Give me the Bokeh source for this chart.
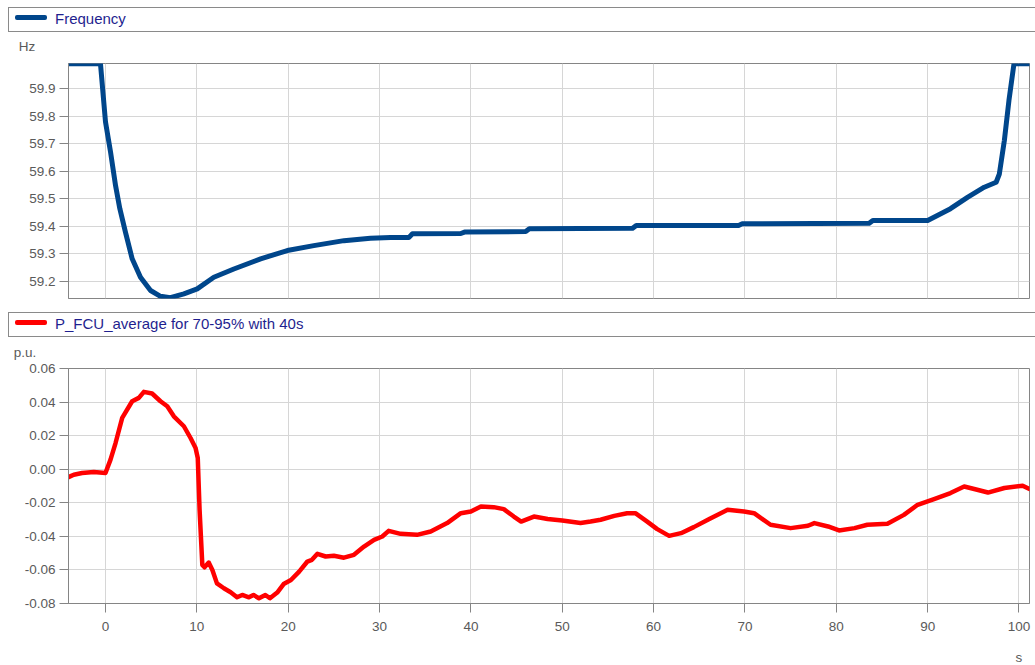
import numpy as np
from bokeh.plotting import figure
from bokeh.models import (Range1d, Label, FixedTicker, PrintfTickFormatter, Div)
from bokeh.layouts import column
from bokeh.embed import file_html
from bokeh.resources import INLINE

# ---- data -------------------------------------------------------------
# grid frequency (Hz) over time (s)
t_freq = [-4.05, -0.55, 0.0, 0.55, 1.1, 1.57, 2.19, 2.92, 3.83, 4.93, 6.02,
          7.1, 8.58, 10.04, 11.86, 14.05, 16.98, 19.9, 22.8, 26.1, 29.0, 31.2,
          33.2, 33.6, 38.9, 39.3, 46.0, 46.4, 57.7, 58.1, 69.3, 69.7, 83.6,
          84.0, 90.0, 92.5, 94.4, 96.2, 97.5, 97.85, 98.4, 98.9, 99.45, 101.15]
freq = [59.99, 59.99, 59.779, 59.67, 59.548, 59.464, 59.378, 59.282, 59.215,
        59.167, 59.146, 59.141, 59.155, 59.173, 59.215, 59.245, 59.282, 59.312,
        59.330, 59.348, 59.357, 59.359, 59.359, 59.373, 59.374, 59.379, 59.381,
        59.391, 59.393, 59.403, 59.403, 59.409, 59.411, 59.421, 59.421, 59.464,
        59.506, 59.542, 59.56, 59.59, 59.712, 59.857, 59.99, 59.99]

# averaged FCU power (p.u.) over time (s)
t_pfcu = [-4.05, -3.47, -2.56, -1.28, 0.0, 0.55, 1.1, 1.83, 2.92, 3.65, 4.2,
          5.1, 6.02, 6.76, 7.48, 8.58, 9.31, 9.86, 10.1, 10.3, 10.6, 10.84,
          11.3, 11.7, 12.2, 12.96, 13.7, 14.4, 14.97, 15.7, 16.2, 16.8, 17.5,
          18.0, 18.8, 19.5, 20.3, 21.2, 22.1, 22.6, 23.2, 24.1, 25.0, 26.1,
          27.2, 28.3, 29.4, 30.3, 31.0, 32.3, 34.1, 35.6, 37.4, 38.9, 40.0,
          41.1, 42.5, 43.6, 44.7, 45.5, 46.9, 48.4, 50.0, 52.0, 53.1, 54.2,
          55.7, 57.1, 58.0, 59.3, 60.4, 61.7, 63.0, 64.4, 66.1, 68.1, 69.9,
          71.0, 72.8, 75.0, 76.9, 77.6, 79.1, 80.3, 82.0, 83.4, 85.6, 87.4,
          88.9, 90.7, 92.5, 94.0, 95.1, 96.6, 98.4, 100.4, 101.15]
pfcu = [-0.0047, -0.0033, -0.0023, -0.0017, -0.0023, 0.0057, 0.0156, 0.0306,
        0.0405, 0.0425, 0.0461, 0.0451, 0.0405, 0.0375, 0.0315, 0.0256, 0.0186,
        0.0127, 0.0067, -0.0242, -0.057, -0.0584, -0.0556, -0.06, -0.068,
        -0.0709, -0.0733, -0.0763, -0.0749, -0.0763, -0.0749, -0.0769, -0.0749,
        -0.0769, -0.0735, -0.0684, -0.066, -0.061, -0.055, -0.054, -0.0504,
        -0.052, -0.0516, -0.0527, -0.051, -0.0461, -0.0421, -0.0401, -0.0367,
        -0.0385, -0.0391, -0.0371, -0.0321, -0.0262, -0.0252, -0.0222, -0.0226,
        -0.0238, -0.0282, -0.0312, -0.0282, -0.0297, -0.0306, -0.0321, -0.0312,
        -0.0301, -0.0278, -0.0262, -0.0262, -0.0312, -0.0357, -0.0397, -0.0381,
        -0.0345, -0.0297, -0.0242, -0.0252, -0.0262, -0.0331, -0.0351, -0.0337,
        -0.0321, -0.0341, -0.0365, -0.0351, -0.0331, -0.0325, -0.0272, -0.0212,
        -0.0178, -0.0142, -0.0103, -0.0118, -0.0139, -0.0112, -0.0098, -0.0118]

x_ticks = [0, 10, 20, 30, 40, 50, 60, 70, 80, 90, 100]
freq_ticks = [59.2, 59.3, 59.4, 59.5, 59.6, 59.7, 59.8, 59.9]
pfcu_ticks = [-0.08, -0.06, -0.04, -0.02, 0.0, 0.02, 0.04, 0.06]

# ---- styling ----------------------------------------------------------
FONT = "Liberation Sans"
TICK_COLOR = "#5a5a5a"
AXIS_COLOR = "#858585"
GRID_COLOR = "#d6d6d6"
LEGEND_TEXT = "#1f1f8f"
FREQ_COLOR = "#00468b"
PFCU_COLOR = "#ff0000"
W = 1035
x_range = Range1d(t_freq[0], t_freq[-1])


def legend_row(height, text, color, key_w, unit, unit_cx, unit_top):
    """Full-width legend strip with the unit caption of the panel below."""
    html = f"""
<div style="position:relative;width:{W}px;height:{height}px;overflow:hidden;
            font-family:'{FONT}';background:white;">
  <div style="position:absolute;left:8px;top:7px;width:{W}px;height:25px;
              box-sizing:border-box;border:1px solid #8a8a8a;"></div>
  <div style="position:absolute;left:15px;top:15px;width:32px;height:{key_w}px;
              background:{color};border-radius:2px;"></div>
  <div style="position:absolute;left:55px;top:10px;font-size:15px;
              line-height:17px;color:{LEGEND_TEXT};white-space:nowrap;">{text}</div>
  <div style="position:absolute;left:{unit_cx - 20}px;width:40px;top:{unit_top}px;
              text-align:center;font-size:13.5px;line-height:15px;
              color:{TICK_COLOR};">{unit}</div>
</div>"""
    return Div(text=html, width=W, height=height, margin=0)


def panel(height, top, bottom, y_range):
    p = figure(width=W, height=height, output_backend="svg",
               toolbar_location=None, x_range=x_range, y_range=y_range,
               min_border_left=68, min_border_right=6,
               min_border_top=top, min_border_bottom=bottom)
    p.outline_line_color = AXIS_COLOR
    p.outline_line_width = 1
    for ax in (p.xaxis[0], p.yaxis[0]):
        ax.axis_line_color = AXIS_COLOR
        ax.major_tick_line_color = AXIS_COLOR
        ax.major_tick_out = 9
        ax.major_tick_in = 0
        ax.minor_tick_line_color = None
        ax.major_label_text_font = FONT
        ax.major_label_text_font_size = "13.5px"
        ax.major_label_text_color = TICK_COLOR
    p.yaxis.major_label_standoff = 4
    p.xaxis.major_label_standoff = 9
    p.xaxis.ticker = FixedTicker(ticks=x_ticks)
    p.xgrid.ticker = FixedTicker(ticks=x_ticks)
    p.xgrid.grid_line_color = GRID_COLOR
    p.ygrid.grid_line_color = GRID_COLOR
    return p


# ---- frequency panel --------------------------------------------------
head1 = legend_row(56, "Frequency", FREQ_COLOR, 5, "Hz", 27, 39)

f_lo, f_hi = min(freq), max(freq)
p1 = panel(249, 7, 7, Range1d(f_lo - 0.003, f_hi + 0.001))
p1.line(t_freq, freq, line_color=FREQ_COLOR, line_width=5,
        line_join="round", line_cap="round")
p1.xaxis.visible = False
p1.yaxis.ticker = FixedTicker(ticks=freq_ticks)
p1.ygrid.ticker = FixedTicker(ticks=freq_ticks)
p1.yaxis.formatter = PrintfTickFormatter(format="%.1f")

# ---- FCU power panel --------------------------------------------------
head2 = legend_row(57, "P_FCU_average for 70-95% with 40s", PFCU_COLOR, 5,
                   "p.u.", 25, 40)

p2 = panel(283, 6, 42, Range1d(pfcu_ticks[0], pfcu_ticks[-1]))
p2.line(t_pfcu, pfcu, line_color=PFCU_COLOR, line_width=4.5,
        line_join="round", line_cap="round")
p2.yaxis.ticker = FixedTicker(ticks=pfcu_ticks)
p2.ygrid.ticker = FixedTicker(ticks=pfcu_ticks)
p2.yaxis.formatter = PrintfTickFormatter(format="%.2f")

# time unit caption under the x axis, aligned with the last tick
foot = figure(width=W, height=20, output_backend="svg", toolbar_location=None,
              x_range=x_range, y_range=Range1d(0, 1),
              min_border_left=68, min_border_right=6,
              min_border_top=0, min_border_bottom=0)
foot.axis.visible = False
foot.grid.visible = False
foot.outline_line_color = None
foot.add_layout(Label(x=100, y=8, x_units="data", y_units="screen", text="s",
                      text_font=FONT, text_font_size="13.5px",
                      text_color=TICK_COLOR, text_align="center",
                      text_baseline="middle"))

layout = column(head1, p1, head2, p2, foot, spacing=0)
open("out.html", "w").write(file_html(layout, INLINE))
